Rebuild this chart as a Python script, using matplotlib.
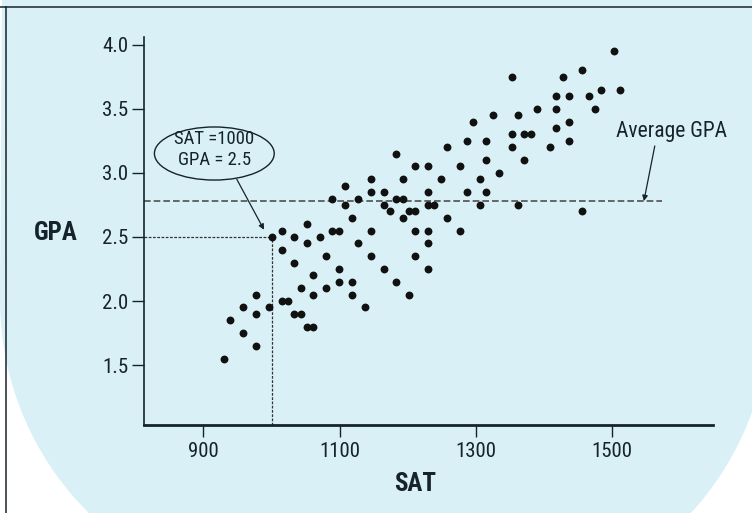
import matplotlib
matplotlib.use("Agg")
import matplotlib.pyplot as plt
import numpy as np
from matplotlib import font_manager
from matplotlib.patches import Ellipse, Polygon
from matplotlib.lines import Line2D

# SAT score vs GPA, one dot per student
sat = [930, 939, 958, 958, 977, 977, 977, 996, 1000, 1015, 1015, 1015, 1024,
       1033, 1033, 1033, 1043, 1043, 1052, 1052, 1052, 1061, 1061, 1061, 1071,
       1080, 1080, 1089, 1089, 1099, 1099, 1099, 1108, 1108, 1118, 1118, 1118,
       1127, 1127, 1137, 1146, 1146, 1146, 1146, 1165, 1165, 1165, 1174, 1183,
       1183, 1183, 1193, 1193, 1193, 1202, 1202, 1211, 1211, 1211, 1211, 1230,
       1230, 1230, 1230, 1230, 1230, 1239, 1249, 1258, 1258, 1277, 1277, 1287,
       1287, 1296, 1306, 1306, 1315, 1315, 1315, 1325, 1334, 1353, 1353, 1353,
       1362, 1362, 1371, 1371, 1381, 1390, 1409, 1418, 1418, 1418, 1428, 1437,
       1437, 1437, 1456, 1456, 1466, 1475, 1484, 1503, 1512]
gpa = [1.55, 1.85, 1.95, 1.75, 2.05, 1.90, 1.65, 1.95, 2.50, 2.55, 2.40, 2.00,
       2.00, 2.50, 2.30, 1.90, 1.90, 2.10, 2.60, 2.45, 1.80, 2.20, 2.05, 1.80,
       2.50, 2.35, 2.10, 2.80, 2.55, 2.55, 2.25, 2.15, 2.90, 2.75, 2.65, 2.15,
       2.05, 2.45, 2.80, 1.95, 2.95, 2.85, 2.55, 2.35, 2.85, 2.75, 2.25, 2.70,
       3.15, 2.80, 2.15, 2.95, 2.80, 2.65, 2.05, 2.70, 3.05, 2.70, 2.55, 2.35,
       3.05, 2.85, 2.75, 2.55, 2.45, 2.25, 2.75, 2.95, 3.20, 2.65, 3.05, 2.55,
       3.25, 2.85, 3.40, 2.95, 2.75, 3.25, 3.10, 2.85, 3.45, 3.00, 3.75, 3.30,
       3.20, 3.45, 2.75, 3.10, 3.30, 3.30, 3.50, 3.20, 3.60, 3.50, 3.35, 3.75,
       3.60, 3.40, 3.25, 3.80, 2.70, 3.60, 3.50, 3.65, 3.95, 3.65]

avg_gpa = 2.78
avg_end = 1573
pick_sat = 1000
pick_gpa = 2.5

xticks = [900, 1100, 1300, 1500]
yticks = [1.5, 2.0, 2.5, 3.0, 3.5, 4.0]

# condensed font if there is one
names = set(f.name for f in font_manager.fontManager.ttflist)
fam = 'DejaVu Sans'
for cand in ['Liberation Sans Narrow', 'Roboto Condensed', 'DejaVu Sans Condensed']:
    if cand in names:
        fam = cand
        break
plt.rcParams['font.family'] = [fam, 'DejaVu Sans']

ink = '#17232a'
blue = '#d9f0f7'
W, H = 752, 513

fig = plt.figure(figsize=(W / 100, H / 100), dpi=100, facecolor='white')

# light blue rounded backdrop
t = np.linspace(np.pi, np.pi / 2, 40)
left_arc = np.c_[300 + 300 * np.cos(t), 300 + 300 * np.sin(t)]
t2 = np.linspace(np.pi / 2, 0, 40)
right_arc = np.c_[470 + 300 * np.cos(t2), 310 + 300 * np.sin(t2)]
pts = np.vstack([[[2, -5]], left_arc, right_arc, [[770, -5]]])
pts = [(x / W, 1 - y / H) for x, y in pts]
fig.patches.append(Polygon(pts, closed=True, transform=fig.transFigure,
                           facecolor=blue, edgecolor='none', zorder=-5))

# frame lines
fig.add_artist(Line2D([0, 1], [1 - 7 / H] * 2, color=ink, lw=1.1))
fig.add_artist(Line2D([6 / W] * 2, [0, 1 - 7 / H], color=ink, lw=1.1))

ax = fig.add_axes([144 / W, 1 - 425 / H, (713 - 144) / W, (425 - 37) / H])
ax.set_facecolor('none')
ax.set_xlim(812.7, 1648.5)
ax.set_ylim(1.033, 4.06)

ax.scatter(sat, gpa, s=32, color='#111111', linewidths=0, zorder=3)

ax.plot([812.7, avg_end], [avg_gpa, avg_gpa], color='#505050', lw=1.2,
        dashes=(4, 1.8), zorder=2)
ax.plot([812.7, pick_sat], [pick_gpa, pick_gpa], color='#333333', lw=0.9,
        dashes=(2.2, 1.2), zorder=2)
ax.plot([pick_sat, pick_sat], [1.033, pick_gpa], color='#333333', lw=0.9,
        dashes=(2.2, 1.2), zorder=2)

for s in ['top', 'right']:
    ax.spines[s].set_visible(False)
ax.spines['left'].set_linewidth(1.2)
ax.spines['bottom'].set_linewidth(2.0)
ax.spines['left'].set_color(ink)
ax.spines['bottom'].set_color(ink)

ax.set_xticks(xticks)
ax.set_xticklabels([str(v) for v in xticks])
ax.set_yticks(yticks)
ax.set_yticklabels(['%.1f' % v for v in yticks])
ax.tick_params(axis='both', length=8.5, width=1.0, color=ink,
               labelcolor=ink, labelsize=15)
ax.tick_params(axis='y', pad=3)
ax.tick_params(axis='x', pad=4)

fig.text(56 / W, 1 - 233 / H, 'GPA', fontsize=18, fontweight='bold',
         color=ink, ha='center', va='center')
fig.text(415 / W, 1 - 484 / H, 'SAT', fontsize=18, fontweight='bold',
         color=ink, ha='center', va='center')

# callout for one student
ax.add_patch(Ellipse((916, 3.151), 176, 0.414, facecolor='none',
                     edgecolor=ink, lw=1.0, zorder=4))
ax.text(916, 3.265, 'SAT =1000', fontsize=13.5, color=ink,
        ha='center', va='center', zorder=5)
ax.text(916, 3.10, 'GPA = 2.5', fontsize=13.5, color=ink,
        ha='center', va='center', zorder=5)
ax.annotate('', xy=(989, 2.556), xytext=(949, 2.95),
            arrowprops=dict(arrowstyle='-|>', color=ink, lw=0.9,
                            mutation_scale=8, shrinkA=0, shrinkB=0))

ax.text(1587, 3.323, 'Average GPA', fontsize=15.5, color=ink,
        ha='center', va='center')
ax.annotate('', xy=(1547, avg_gpa), xytext=(1563, 3.21),
            arrowprops=dict(arrowstyle='-|>', color=ink, lw=0.9,
                            mutation_scale=8, shrinkA=0, shrinkB=0))

fig.savefig('out.png', dpi=100, facecolor=fig.get_facecolor())
